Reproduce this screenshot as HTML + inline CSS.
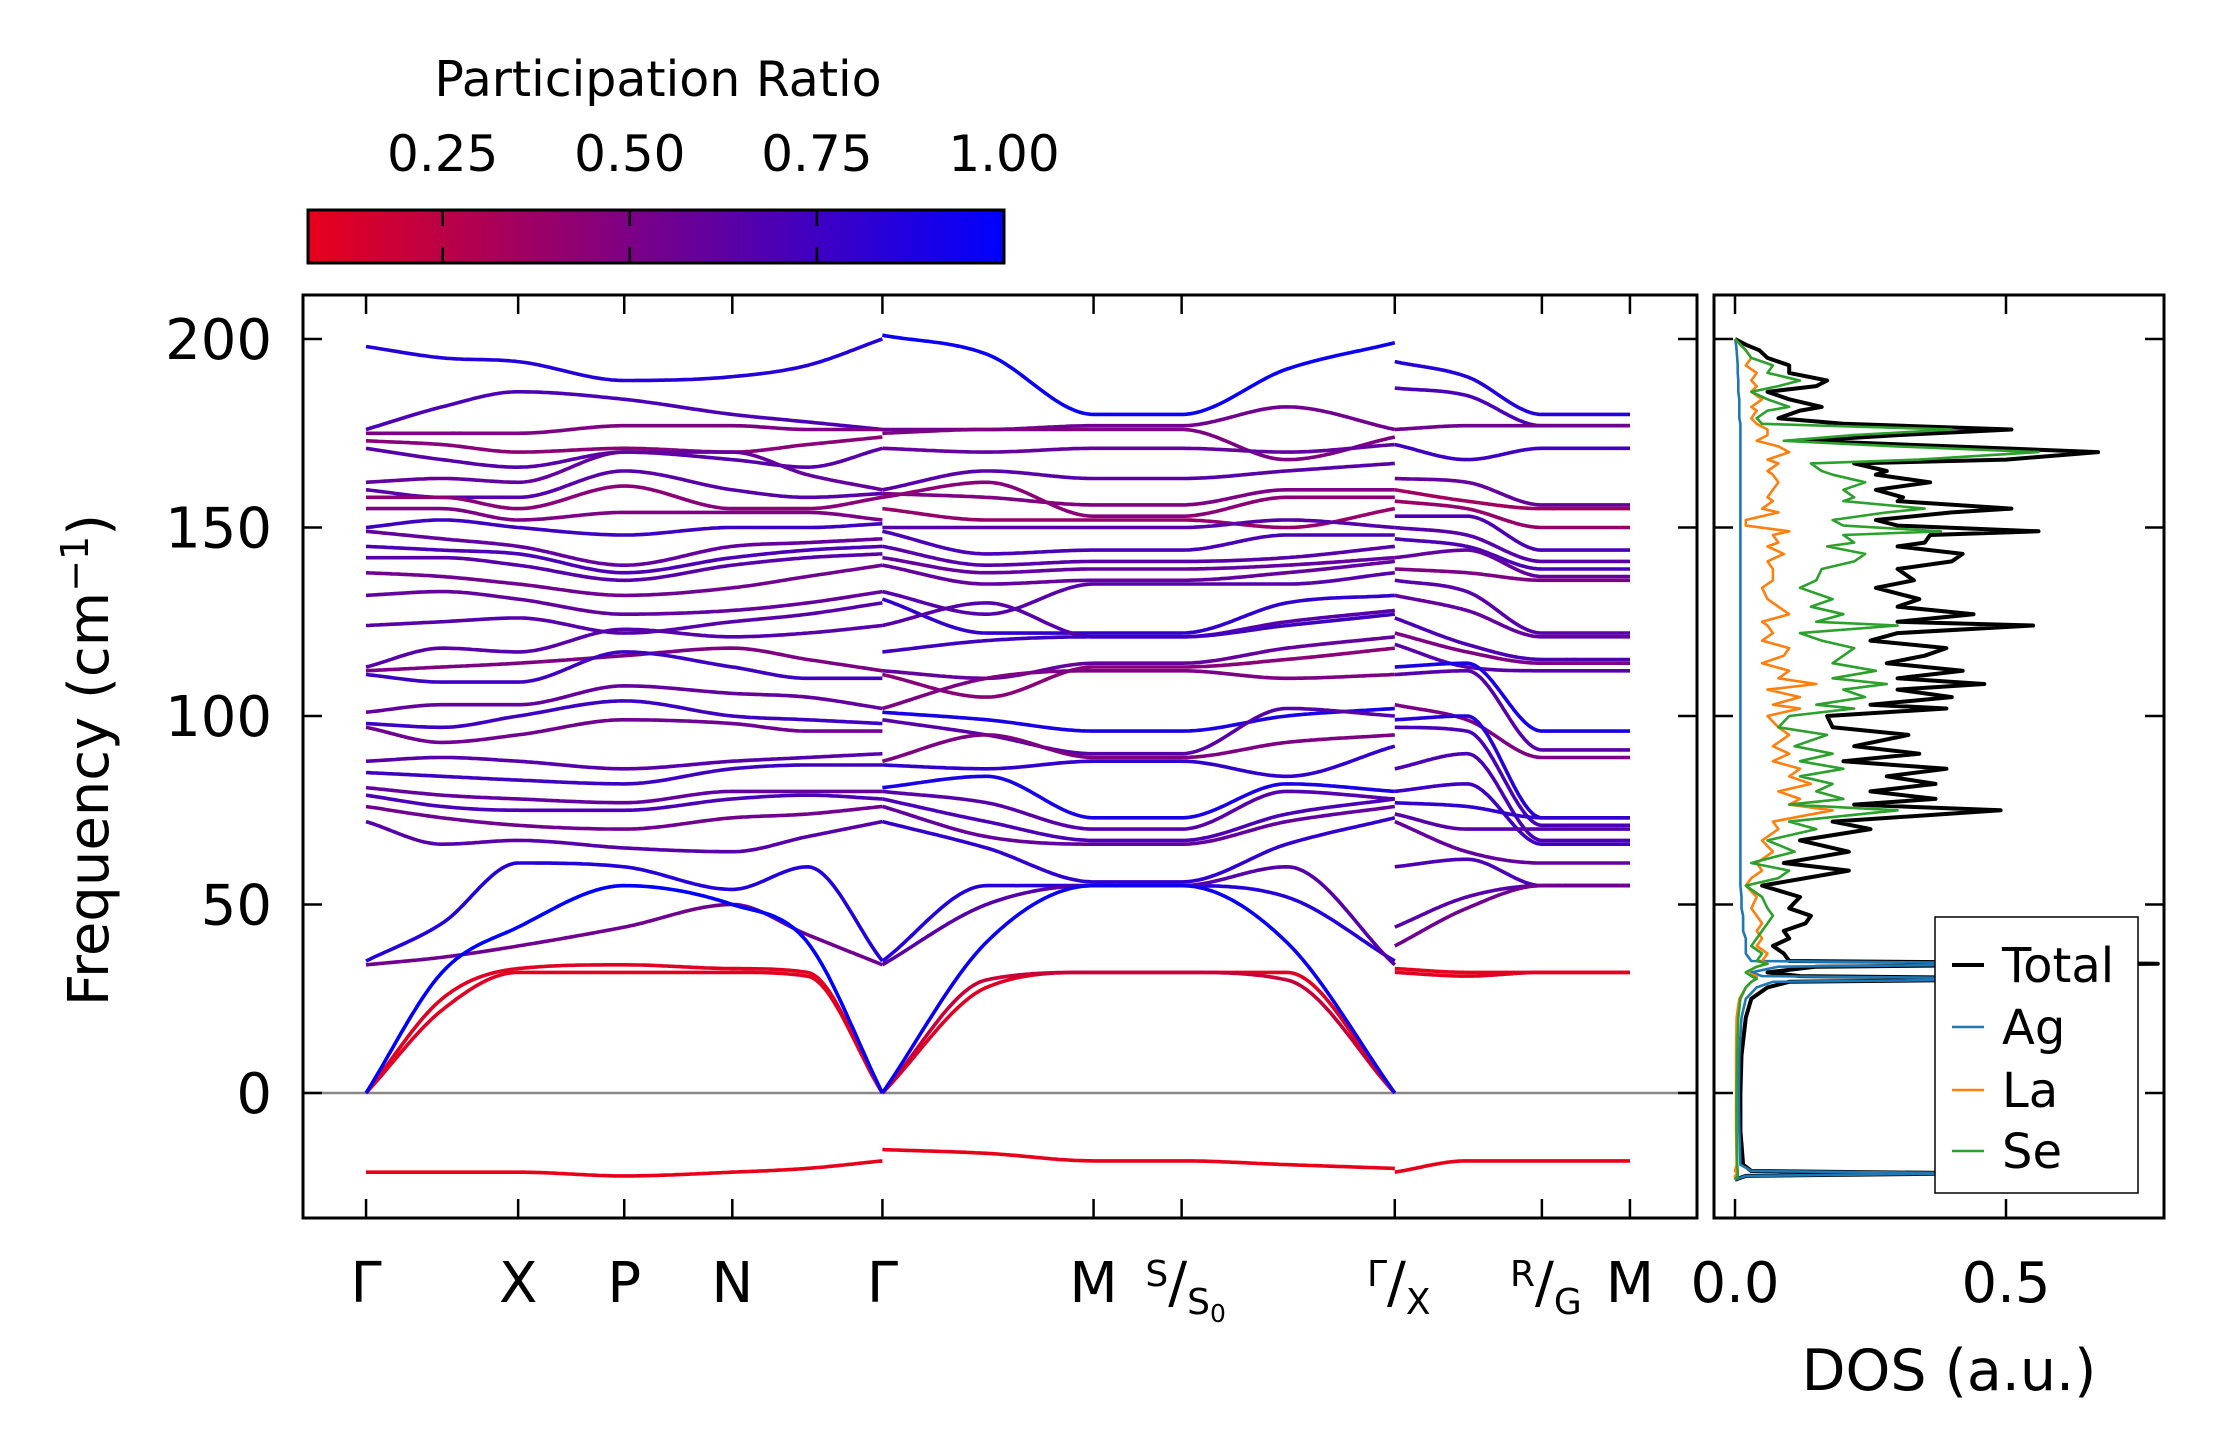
<!DOCTYPE html>
<html><head><meta charset="utf-8">
<style>
html,body{margin:0;padding:0;background:#fff;}
svg{display:block;font-family:"DejaVu Sans","Liberation Sans",sans-serif;}
</style></head>
<body>
<svg id="chart" width="2222" height="1455" viewBox="0 0 2222 1455" xmlns="http://www.w3.org/2000/svg">
<defs>
<linearGradient id="cbgrad" x1="0" x2="1" y1="0" y2="0">
<stop offset="0" stop-color="#e8001a"/><stop offset="0.5" stop-color="#74008d"/><stop offset="1" stop-color="#0000ff"/>
</linearGradient>
<clipPath id="mainclip"><rect x="303" y="295" width="1394" height="923"/></clipPath>
<clipPath id="dosclip"><rect x="1714" y="295" width="450" height="923"/></clipPath>
</defs>
<g>
<text x="658" y="96" font-size="49" text-anchor="middle">Participation Ratio</text>
<rect x="308" y="210" width="696" height="53" fill="url(#cbgrad)" stroke="#000" stroke-width="3"/>
<g id="cbticks"></g>
</g>
<g id="main">
<line x1="303" x2="1697" y1="1093" y2="1093" stroke="#888" stroke-width="2.5"/>
<g id="bands" clip-path="url(#mainclip)"></g>
<rect x="303" y="295" width="1394" height="923" fill="none" stroke="#000" stroke-width="3"/>
<g id="mainticks"></g>
<text transform="translate(108,760) rotate(-90)" font-size="56" text-anchor="middle">Frequency (cm<tspan font-size="38" dy="-20">−1</tspan><tspan dy="20">)</tspan></text>
</g>
<g id="dos">
<g id="doslines" clip-path="url(#dosclip)"></g>
<rect x="1714" y="295" width="450" height="923" fill="none" stroke="#000" stroke-width="3"/>
<g id="dosticks"></g>
<text x="1949" y="1390" font-size="57" text-anchor="middle">DOS (a.u.)</text>
<g>
<rect x="1935" y="917" width="203" height="276" fill="#fff" stroke="#000" stroke-width="1.5"/>
<g id="legendentries"></g>
</g>
</g>
</svg>
<script>
// ---------- axis data ----------
const kTickVals = [0, 1.52, 2.58, 3.66, 5.16, 7.27, 8.15, 10.28, 11.75, 12.63];
const yTickVals = [0, 50, 100, 150, 200];
const cbTickVals = [0.25, 0.50, 0.75, 1.00];
const cbTickLabels = ["0.25", "0.50", "0.75", "1.00"];
const dosTickVals = [0.0, 0.5];
const dosTickLabels = ["0.0", "0.5"];

// ---------- band data ----------
const seg1K = [0, 0.76, 1.52, 2.58, 3.66, 4.41, 5.16];
const seg1Bands = [
[198,195,194,189,190,193,200],[176,182,186,184,180,178,176],[175,175,175,177,177,176,176],
[173,172,170,171,170,172,174],[171,168,166,170,168,166,171],[162,163,162,170,170,164,160],
[160,158,158,165,160,158,159],[158,158,155,161,155,155,158],[155,155,152,154,154,154,152],
[150,152,150,148,150,150,151],[149,147,145,140,145,146,147],[145,144,143,138,142,144,145],
[142,142,140,136,140,142,143],[138,137,135,132,134,137,140],[132,133,131,127,128,130,133],
[124,125,126,122,125,127,130],[113,118,117,123,121,122,124],[112,113,114,116,118,115,112],
[111,109,109,117,113,110,110],[101,103,103,108,106,105,102],[98,97,100,104,100,99,98],
[97,93,95,99,98,96,96],[88,89,88,86,88,89,90],[85,84,83,82,86,87,87],[81,79,78,77,80,80,80],
[79,76,75,75,78,79,78],[76,73,71,70,73,74,76],[72,66,67,65,64,68,72],
[35,45,61,60,54,60,35],[34,36,39,44,50,42,34],
[0,25,33,34,33,32,0],[0,22,32,32,32,31,0],[0,32,44,55,50,40,0],
[-21,-21,-21,-22,-21,-20,-18]];
const seg1PR = [0.85,0.7,0.5,0.45,0.65,0.6,0.65,0.45,0.5,0.75,0.6,0.7,0.65,0.55,0.6,0.65,0.65,0.5,0.75,0.6,0.75,0.55,0.65,0.75,0.6,0.7,0.55,0.65,0.85,0.55,0.1,0.1,1.0,0.07];

const seg2K = [5.16, 6.2, 7.27, 8.15, 9.2, 10.28];
const seg2Bands = [
[201,196,180,180,192,199],[176,176,177,177,182,176],[175,176,176,176,168,174],[171,170,171,171,170,172],
[160,165,163,163,165,167],[159,158,156,156,160,160],[158,162,153,153,158,158],[155,152,152,152,150,155],
[150,150,150,150,152,150],[149,143,144,144,148,148],[145,140,141,141,142,145],[142,138,139,139,140,142],
[140,135,136,136,138,141],[133,127,135,135,135,138],[131,122,122,122,130,132],[124,130,121,121,125,128],
[117,120,121,121,124,127],[112,110,114,114,118,121],[111,105,113,113,115,118],[102,110,112,112,110,111],
[101,99,96,96,100,102],[99,95,90,90,102,100],[88,95,89,89,93,95],[87,86,88,88,84,92],
[81,84,73,73,82,80],[80,77,70,70,80,78],[78,72,67,67,74,78],[76,68,66,66,72,76],[72,65,56,56,66,73],
[35,55,55,55,52,35],[34,50,55,55,60,34],[0,28,32,32,32,0],[0,30,32,32,30,0],[0,40,55,55,40,0],
[-15,-16,-18,-18,-19,-20]];
const seg2PR = [0.95,0.55,0.5,0.6,0.65,0.5,0.45,0.4,0.65,0.7,0.65,0.6,0.6,0.65,0.8,0.65,0.75,0.6,0.45,0.5,0.9,0.65,0.5,0.8,0.9,0.65,0.7,0.6,0.8,0.85,0.65,0.1,0.2,0.95,0.07];

const seg3K = [10.28, 11.0, 11.75, 12.63];
const seg3Bands = [
[194,190,180,180],[187,185,177,177],[176,177,177,177],[172,168,171,171],[163,162,156,156],
[160,157,155,155],[157,155,150,150],[153,153,144,144],[150,148,141,141],[147,145,139,139],
[142,144,137,137],[139,138,136,136],[136,133,122,122],[132,128,121,121],[126,119,115,115],
[122,117,114,114],[119,113,112,112],[113,114,96,96],[111,112,91,91],[103,99,89,89],
[99,100,73,73],[97,96,71,71],[86,90,67,67],[80,82,66,66],[77,76,73,73],[74,70,70,70],
[72,64,61,61],[60,62,55,55],[44,52,55,55],[39,49,55,55],[33,32,32,32],[32,31,32,32],[-21,-18,-18,-18]];
const seg3PR = [0.85,0.7,0.55,0.75,0.6,0.35,0.4,0.7,0.65,0.7,0.6,0.5,0.65,0.6,0.7,0.5,0.65,0.9,0.65,0.5,0.85,0.7,0.7,0.75,0.8,0.65,0.6,0.7,0.65,0.55,0.08,0.1,0.07];

// ---------- DOS data ----------
const dosFreq = [-23,-22,-21.3,-20.7,-19,-10,0,10,20,25,28,29.5,30.3,31,32,33.5,34.3,35,37,39,41,43,45,47,49,52,55,57,59,61,64,67,70,72,75,76.5,78,80,82,84,86,88,90,92,95,97,100,102,103,105,107,108.5,110,112,114,116,118,120,122,124,125,127,129,131,134,136,139,141,143,145,146,148,149,150.5,152,154,155,157,158,160,162,164,165,167,168,170,171.5,173,174.5,176,177.5,179,181,182,184,186,187.5,189,191,193,195,197,198.5,200];
const dosTotal = [0,.02,.45,.03,.015,.01,.01,.012,.02,.03,.06,.1,.65,.12,.06,.15,.78,.1,.09,.07,.1,.09,.13,.14,.1,.12,.05,.13,.21,.09,.21,.12,.25,.18,.49,.22,.37,.25,.37,.28,.39,.2,.34,.22,.32,.18,.17,.39,.25,.4,.3,.46,.3,.42,.28,.35,.39,.25,.3,.55,.3,.44,.3,.34,.26,.33,.3,.4,.42,.3,.35,.36,.56,.3,.26,.4,.51,.3,.31,.26,.36,.26,.28,.22,.5,.67,.4,.13,.3,.51,.2,.08,.12,.16,.1,.06,.15,.17,.1,.1,.06,.045,.02,0];
const dosAg = [0,.02,.44,.03,.01,.008,.007,.008,.012,.02,.04,.07,.6,.05,.03,.08,.62,.03,.02,.02,.02,.015,.015,.015,.012,.012,.01,.01,.01,.01,.01,.01,.01,.01,.01,.01,.01,.01,.01,.01,.01,.01,.01,.01,.01,.01,.01,.01,.01,.01,.01,.01,.01,.01,.01,.01,.01,.01,.01,.01,.01,.01,.01,.01,.01,.01,.01,.01,.01,.01,.01,.01,.01,.01,.01,.01,.01,.01,.01,.01,.01,.01,.01,.01,.01,.01,.01,.01,.01,.01,.01,.008,.008,.008,.008,.006,.006,.006,.005,.005,.004,.003,.002,0];
const dosLa = [0,0,.005,0,.003,.002,.002,.002,.003,.008,.02,.03,.04,.04,.02,.04,.06,.05,.06,.04,.05,.04,.05,.04,.03,.04,.02,.03,.05,.04,.07,.05,.08,.07,.18,.1,.12,.08,.14,.1,.12,.07,.1,.07,.1,.08,.06,.12,.07,.12,.06,.15,.08,.1,.05,.09,.1,.05,.07,.06,.05,.1,.08,.06,.05,.07,.07,.06,.09,.06,.08,.07,.1,.02,.02,.08,.05,.07,.06,.07,.08,.07,.06,.08,.06,.1,.08,.04,.06,.06,.04,.03,.04,.03,.05,.03,.04,.03,.04,.02,.03,.02,.01,0];
const dosSe = [0,.005,.005,.005,.004,.003,.003,.004,.006,.01,.02,.03,.04,.03,.02,.04,.06,.04,.05,.03,.04,.05,.06,.07,.06,.05,.02,.08,.1,.03,.11,.06,.15,.1,.3,.1,.2,.15,.18,.12,.2,.12,.18,.11,.17,.08,.1,.22,.15,.24,.2,.28,.18,.26,.18,.2,.22,.16,.12,.3,.15,.2,.14,.18,.12,.15,.16,.22,.24,.17,.22,.2,.38,.2,.18,.28,.35,.2,.22,.2,.24,.18,.16,.14,.34,.56,.3,.09,.22,.4,.05,.04,.06,.1,.06,.03,.08,.12,.06,.07,.03,.02,.01,0];

// ---------- scales ----------
const kMin = -0.63, kMax = 13.3, X0 = 303, X1 = 1697;
function xK(k){ return X0 + (k - kMin) / (kMax - kMin) * (X1 - X0); }
function yF(f){ return 1093 - f * 3.77; }
function xD(v){ return 1735 + v * 542; }
function xCB(v){ return 308 + (v - 0.07) / 0.93 * 696; }
function prColor(v){
  let t = Math.max(0, Math.min(1, (v - 0.07) / 0.93));
  const r = Math.round(232 * (1 - t)), b = Math.round(26 + 229 * t);
  return `rgb(${r},0,${b})`;
}
const NS = "http://www.w3.org/2000/svg";
function mk(tag, attrs, parent){
  const e = document.createElementNS(NS, tag);
  for (const k in attrs) e.setAttribute(k, attrs[k]);
  parent.appendChild(e); return e;
}
function mono(xs, ys){
  const n = xs.length, d = [], m = [];
  for (let i = 0; i < n - 1; i++) d.push((ys[i+1]-ys[i])/(xs[i+1]-xs[i]));
  m[0] = d[0]; m[n-1] = d[n-2];
  for (let i = 1; i < n - 1; i++) m[i] = (d[i-1]*d[i] <= 0) ? 0 : (d[i-1]+d[i])/2;
  for (let i = 0; i < n - 1; i++){
    if (d[i] === 0){ m[i] = 0; m[i+1] = 0; continue; }
    const a = m[i]/d[i], b = m[i+1]/d[i], s = a*a + b*b;
    if (s > 9){ const t = 3/Math.sqrt(s); m[i] = t*a*d[i]; m[i+1] = t*b*d[i]; }
  }
  return function(x){
    let i = 0; while (i < n - 2 && x > xs[i+1]) i++;
    const h = xs[i+1]-xs[i], t = (x - xs[i]) / h;
    const h00 = 2*t*t*t - 3*t*t + 1, h10 = t*t*t - 2*t*t + t, h01 = -2*t*t*t + 3*t*t, h11 = t*t*t - t*t;
    return h00*ys[i] + h10*h*m[i] + h01*ys[i+1] + h11*h*m[i+1];
  };
}

// ---------- bands ----------
const gB = document.getElementById("bands");
function drawSeg(ks, bands, prs, segName){
  bands.forEach((vals, bi) => {
    const f = mono(ks, vals);
    const pts = [];
    const steps = 160;
    for (let s = 0; s <= steps; s++){
      const k = ks[0] + (ks[ks.length-1] - ks[0]) * s / steps;
      pts.push(xK(k).toFixed(1) + "," + yF(f(k)).toFixed(1));
    }
    const pl = mk("polyline", {points: pts.join(" "), fill: "none", stroke: prColor(prs[bi]), "stroke-width": 3.6, "stroke-linejoin": "round"}, gB);
    
    
  });
}
drawSeg(seg1K, seg1Bands, seg1PR, "seg1");
drawSeg(seg2K, seg2Bands, seg2PR, "seg2");
drawSeg(seg3K, seg3Bands, seg3PR, "seg3");

// ---------- main ticks ----------
const gT = document.getElementById("mainticks");
kTickVals.forEach((k, i) => {
  const x = xK(k);
  const t1 = mk("line", {x1: x, x2: x, y1: 1218, y2: 1199, stroke: "#000", "stroke-width": 2.5}, gT);
  
  
  const t2 = mk("line", {x1: x, x2: x, y1: 295, y2: 314, stroke: "#000", "stroke-width": 2.5}, gT);
  
  
});
yTickVals.forEach(v => {
  const y = yF(v);
  const a = mk("line", {x1: 303, x2: 322, y1: y, y2: y, stroke: "#000", "stroke-width": 2.5}, gT);
  
  
  const b = mk("line", {x1: 1678, x2: 1697, y1: y, y2: y, stroke: "#000", "stroke-width": 2.5}, gT);
  
  
  const t = mk("text", {x: 272, y: y + 20, "font-size": 56, "text-anchor": "end"}, gT);
  t.textContent = String(v);
  
  
});
const xl = [
  {k:0, html:'Γ'}, {k:1.52, html:'X'}, {k:2.58, html:'P'}, {k:3.66, html:'N'}, {k:5.16, html:'Γ'},
  {k:7.27, html:'M'},
  {k:8.15, html:'<tspan font-size="36" dy="-16">S</tspan><tspan dy="16">/</tspan><tspan font-size="36" dy="12">S</tspan><tspan font-size="25" dy="8">0</tspan>'},
  {k:10.28, html:'<tspan font-size="36" dy="-16">Γ</tspan><tspan dy="16">/</tspan><tspan font-size="36" dy="12">X</tspan>'},
  {k:11.75, html:'<tspan font-size="36" dy="-16">R</tspan><tspan dy="16">/</tspan><tspan font-size="36" dy="12">G</tspan>'},
  {k:12.63, html:'M'}
];
xl.forEach(o => {
  const t = mk("text", {x: xK(o.k) + (o.html.length > 3 ? 4 : 0), y: 1302, "font-size": 56, "text-anchor": "middle"}, gT);
  t.innerHTML = o.html;
  
  
});

// ---------- colorbar ticks ----------
const gC = document.getElementById("cbticks");
cbTickVals.forEach((v, i) => {
  const x = xCB(v);
  if (v < 0.99){
    const a = mk("line", {x1: x, x2: x, y1: 210, y2: 226, stroke: "#000", "stroke-width": 2.5}, gC);
    
    
    const b = mk("line", {x1: x, x2: x, y1: 247, y2: 263, stroke: "#000", "stroke-width": 2.5}, gC);
    
    
  }
  const t = mk("text", {x: x, y: 171, "font-size": 50, "text-anchor": "middle"}, gC);
  t.textContent = cbTickLabels[i];
  
  
});

// ---------- DOS ----------
const gD = document.getElementById("doslines");
const dosSeries = [
  {name: "total", vals: dosTotal, color: "#000000", w: 4},
  {name: "ag", vals: dosAg, color: "#1f77b4", w: 2.6},
  {name: "la", vals: dosLa, color: "#ff7f0e", w: 2.6},
  {name: "se", vals: dosSe, color: "#2ca02c", w: 2.6}
];
dosSeries.forEach(s => {
  const pts = dosFreq.map((f, i) => xD(s.vals[i]).toFixed(1) + "," + yF(f).toFixed(1)).join(" ");
  const pl = mk("polyline", {points: pts, fill: "none", stroke: s.color, "stroke-width": s.w, "stroke-linejoin": "round"}, gD);
  
  
});
const gDT = document.getElementById("dosticks");
yTickVals.forEach(v => {
  const y = yF(v);
  const a = mk("line", {x1: 1714, x2: 1733, y1: y, y2: y, stroke: "#000", "stroke-width": 2.5}, gDT);
  
  
  const b = mk("line", {x1: 2145, x2: 2164, y1: y, y2: y, stroke: "#000", "stroke-width": 2.5}, gDT);
  
  
});
dosTickVals.forEach((v, i) => {
  const x = xD(v);
  const a = mk("line", {x1: x, x2: x, y1: 1218, y2: 1199, stroke: "#000", "stroke-width": 2.5}, gDT);
  
  
  const b = mk("line", {x1: x, x2: x, y1: 295, y2: 314, stroke: "#000", "stroke-width": 2.5}, gDT);
  
  
  const t = mk("text", {x: x, y: 1302, "font-size": 56, "text-anchor": "middle"}, gDT);
  t.textContent = dosTickLabels[i];
  
  
});
const gL = document.getElementById("legendentries");
const legNames = ["Total", "Ag", "La", "Se"];
const legYs = [965, 1027, 1090, 1151];
dosSeries.forEach((s, i) => {
  const l = mk("line", {x1: 1952, x2: 1984, y1: legYs[i], y2: legYs[i], stroke: s.color, "stroke-width": s.w}, gL);
  
  
  const t = mk("text", {x: 2002, y: legYs[i] + 17, "font-size": 48}, gL);
  t.textContent = legNames[i];
  
  
});
</script>
</body></html>
